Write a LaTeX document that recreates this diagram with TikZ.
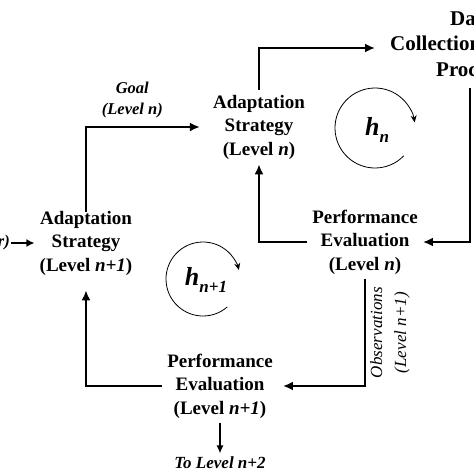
\documentclass[tikz,border=0pt]{standalone}
\usepackage{fontspec}
\setmainfont{Liberation Serif}
\usetikzlibrary{arrows.meta,positioning}

\tikzset{
  block/.style={align=center, font=\fontsize{19}{23.5}\selectfont\bfseries, inner sep=5pt},
  tag/.style={align=center, font=\fontsize{16.5}{21}\selectfont\bfseries\itshape},
  obs/.style={align=center, font=\fontsize{17}{24}\selectfont\itshape, rotate=90, anchor=north, inner sep=4pt},
  hlabel/.style={font=\fontsize{26}{26}\selectfont\bfseries\itshape, inner sep=0pt},
  flow/.style={line width=2.8pt, -{Latex[length=10pt,width=9pt]}},
  smallflow/.style={line width=2pt, -{Latex[length=8pt,width=8pt]}},
  thinflow/.style={line width=1.4pt, -{Latex[length=8pt,width=7pt]}},
  turn/.style={line width=0.8pt, -{Stealth[length=7pt,width=6pt]}},
}

\begin{document}
\begin{tikzpicture}[x=1pt,y=-1pt]
  \useasboundingbox (0,0) rectangle (474,474);
  \pgfmathsetmacro{\TurnRadius}{40}
  \pgfmathsetmacro{\TurnRadiusLow}{37}

  \node[block] (ASn) at (259,127) {Adaptation\\Strategy\\(Level \textit{n})};
  \node[block] (PEn) at (365,242) {Performance\\Evaluation\\(Level \textit{n})};
  \node[block] (ASnone) at (86,243) {Adaptation\\Strategy\\(Level \textit{n+1})};
  \node[block] (PEnone) at (220,386) {Performance\\Evaluation\\(Level \textit{n+1})};
  \node[block, font=\fontsize{21}{25.5}\selectfont\bfseries, align=left, anchor=west] (DCP) at (385,44) {\hspace*{60pt}Data\\Collection\\\hspace*{46pt}Process};
  \node[tag, anchor=east, inner sep=1pt] (prev) at (11,243) {r)};
  \node[tag, font=\fontsize{17}{21}\selectfont\bfseries\itshape] (next) at (220,463) {To Level n+2};
  \coordinate (dcpout) at (470,88);

  % upper loop
  \draw[flow, shorten >=10pt] (ASn.north) |- ([yshift=-4pt]DCP.west);
  \draw[flow] (dcpout) |- (PEn.east);
  \draw[flow] (PEn.west) -| (ASn.south);

  % lower loop
  \draw[flow, shorten <=-6pt, shorten >=8pt] (ASnone.north) |- node[tag, above=4pt, pos=0.69] {Goal\\(Level \textit{n})} (ASn.west);
  \draw[flow, shorten >=5pt] (PEn.south) |- node[obs, pos=0.25] {Observations\\(Level \textit{n}+1)} (PEnone.east);
  \draw[flow, shorten >=10pt] (PEnone.west) -| (ASnone.south);
  \draw[smallflow] (prev.east) -- (ASnone.west);
  \draw[thinflow] (PEnone.south) -- (next.north);

  % turning arrows
  \node[hlabel] (hn) at (377,130) {h\raisebox{-7pt}{\fontsize{17}{17}\selectfont n}};
  \node[hlabel] (hnone) at (206,280) {h\raisebox{-7pt}{\fontsize{17}{17}\selectfont n+1}};
  \draw[turn] (375,128) ++(-44:\TurnRadius pt) arc[start angle=-44, end angle=-352, radius=\TurnRadius pt];
  \draw[turn] (203,279) ++(-49:\TurnRadiusLow pt) arc[start angle=-49, end angle=-346, radius=\TurnRadiusLow pt];
\end{tikzpicture}
\end{document}
